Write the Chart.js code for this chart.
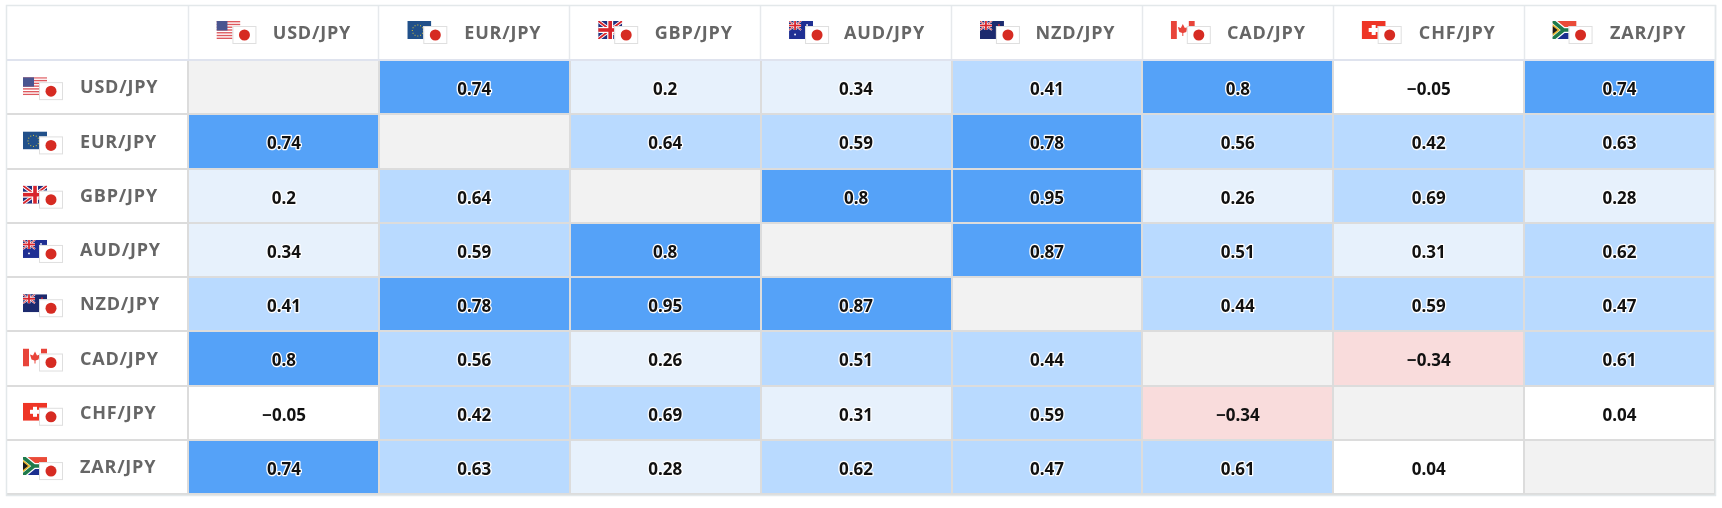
<!DOCTYPE html>
<html>
<head>
<meta charset="utf-8">
<title>JPY correlation</title>
<script src="https://cdn.jsdelivr.net/npm/chart.js@4"></script>
<style>
  html, body { margin: 0; padding: 0; background: #fff; }
  canvas { display: block; }
</style>
</head>
<body>
<canvas id="corrChart" width="1722" height="508"></canvas>
<script>
const pairs = ['USD/JPY', 'EUR/JPY', 'GBP/JPY', 'AUD/JPY', 'NZD/JPY', 'CAD/JPY', 'CHF/JPY', 'ZAR/JPY'];

const usdRow = [null, 0.74, 0.2, 0.34, 0.41, 0.8, -0.05, 0.74];
const eurRow = [0.74, null, 0.64, 0.59, 0.78, 0.56, 0.42, 0.63];
const gbpRow = [0.2, 0.64, null, 0.8, 0.95, 0.26, 0.69, 0.28];
const audRow = [0.34, 0.59, 0.8, null, 0.87, 0.51, 0.31, 0.62];
const nzdRow = [0.41, 0.78, 0.95, 0.87, null, 0.44, 0.59, 0.47];
const cadRow = [0.8, 0.56, 0.26, 0.51, 0.44, null, -0.34, 0.61];
const chfRow = [-0.05, 0.42, 0.69, 0.31, 0.59, -0.34, null, 0.04];
const zarRow = [0.74, 0.63, 0.28, 0.62, 0.47, 0.61, 0.04, null];

const rows = [usdRow, eurRow, gbpRow, audRow, nzdRow, cadRow, chfRow, zarRow];

function cellColor(v) {
  if (v === null) return '#f2f2f2';
  if (v <= -0.2) return '#f9dcdc';
  if (v < 0.2) return '#ffffff';
  if (v < 0.4) return '#e7f1fc';
  if (v < 0.7) return '#b9daff';
  return '#55a2f8';
}

// small flags, 24x18 at x,y
function unionJack(c, x, y, w, h) {
  c.fillStyle = '#22307e';
  c.fillRect(x, y, w, h);
  c.lineWidth = h / 5;
  c.strokeStyle = '#fff';
  c.beginPath();
  c.moveTo(x, y); c.lineTo(x + w, y + h);
  c.moveTo(x + w, y); c.lineTo(x, y + h);
  c.stroke();
  c.lineWidth = h / 10;
  c.strokeStyle = '#d8252c';
  c.stroke();
  c.fillStyle = '#fff';
  c.fillRect(x + w / 2 - h / 6, y, h / 3, h);
  c.fillRect(x, y + h / 3, w, h / 3);
  c.fillStyle = '#d8252c';
  c.fillRect(x + w / 2 - h / 10, y, h / 5, h);
  c.fillRect(x, y + h * 0.4, w, h / 5);
}

function dots(c, color, list) {
  c.fillStyle = color;
  list.forEach(p => {
    c.beginPath();
    c.arc(p[0], p[1], 0.9, 0, Math.PI * 2);
    c.fill();
  });
}

const flags = {
  USD(c, x, y) {
    c.fillStyle = '#fff';
    c.fillRect(x, y, 24, 18);
    c.fillStyle = '#de5a5f';
    for (let i = 0; i < 7; i++) c.fillRect(x, y + i * 2.77, 24, 1.38);
    c.fillStyle = '#4a5590';
    c.fillRect(x, y, 11, 9.5);
  },
  EUR(c, x, y) {
    c.fillStyle = '#21508a';
    c.fillRect(x, y, 24, 18);
    c.fillStyle = '#d9c53c';
    for (let i = 0; i < 12; i++) {
      const a = i * Math.PI / 6;
      c.fillRect(x + 10 + Math.cos(a) * 5.5, y + 9 + Math.sin(a) * 5.5, 1, 1);
    }
  },
  GBP(c, x, y) {
    unionJack(c, x, y, 24, 18);
  },
  AUD(c, x, y) {
    c.fillStyle = '#1f2f93';
    c.fillRect(x, y, 24, 18);
    unionJack(c, x, y, 12, 9);
    dots(c, '#fff', [[x + 6, y + 13.5], [x + 18, y + 4], [x + 21, y + 8]]);
  },
  NZD(c, x, y) {
    c.fillStyle = '#1c2a6e';
    c.fillRect(x, y, 24, 18);
    unionJack(c, x, y, 12, 9);
    dots(c, '#d8252c', [[x + 19, y + 4], [x + 21, y + 8]]);
  },
  CAD(c, x, y) {
    c.fillStyle = '#fff';
    c.fillRect(x, y, 24, 18);
    c.fillStyle = '#e8443a';
    c.fillRect(x, y, 6, 18);
    c.fillRect(x + 18, y, 6, 18);
    c.beginPath();
    c.moveTo(x + 12, y + 3);
    c.lineTo(x + 14, y + 7);
    c.lineTo(x + 17, y + 6);
    c.lineTo(x + 15.5, y + 11);
    c.lineTo(x + 12.5, y + 12);
    c.lineTo(x + 12.5, y + 15);
    c.lineTo(x + 11.5, y + 15);
    c.lineTo(x + 11.5, y + 12);
    c.lineTo(x + 8.5, y + 11);
    c.lineTo(x + 7, y + 6);
    c.lineTo(x + 10, y + 7);
    c.closePath();
    c.fill();
  },
  CHF(c, x, y) {
    c.fillStyle = '#ee3526';
    c.fillRect(x, y, 24, 18);
    c.fillStyle = '#fff';
    c.fillRect(x + 7, y + 7, 10, 4);
    c.fillRect(x + 10, y + 4, 4, 10);
  },
  ZAR(c, x, y) {
    c.fillStyle = '#ea4b38';
    c.fillRect(x, y, 24, 9);
    c.fillStyle = '#1b2f8f';
    c.fillRect(x, y + 9, 24, 9);
    c.strokeStyle = '#fff';
    c.lineWidth = 6;
    c.beginPath();
    c.moveTo(x, y); c.lineTo(x + 11, y + 9); c.lineTo(x, y + 18);
    c.moveTo(x + 11, y + 9); c.lineTo(x + 24, y + 9);
    c.stroke();
    c.strokeStyle = '#1f7a4c';
    c.lineWidth = 3.6;
    c.stroke();
    c.fillStyle = '#e9b62c';
    c.beginPath();
    c.moveTo(x, y + 3); c.lineTo(x + 7.5, y + 9); c.lineTo(x, y + 15);
    c.fill();
    c.fillStyle = '#1a1a1a';
    c.beginPath();
    c.moveTo(x, y + 5); c.lineTo(x + 5, y + 9); c.lineTo(x, y + 13);
    c.fill();
  }
};

function drawPairFlag(c, pair, x, y) {
  c.save();
  c.beginPath();
  c.rect(x, y, 24, 18);
  c.clip();
  flags[pair.slice(0, 3)](c, x, y);
  c.restore();
  // JPY flag sits on top, lower right
  const jx = x + 16, jy = y + 5;
  c.fillStyle = '#fff';
  c.fillRect(jx, jy, 24, 18);
  c.strokeStyle = '#dfdfdf';
  c.lineWidth = 1;
  c.strokeRect(jx + 0.5, jy + 0.5, 23, 17);
  c.fillStyle = '#d62b22';
  c.beginPath();
  c.arc(jx + 12, jy + 9, 5.5, 0, Math.PI * 2);
  c.fill();
}

const tablePlugin = {
  id: 'tablePlugin',
  beforeDraw(chart) {
    chart.ctx.letterSpacing = '0.8px';
  },
  afterDatasetsDraw(chart) {
    const c = chart.ctx;
    c.save();
    c.letterSpacing = '0px';
    c.font = 'bold 17px "Noto Sans"';
    c.textAlign = 'center';
    c.textBaseline = 'middle';
    c.lineJoin = 'round';
    chart.data.datasets.forEach((ds, col) => {
      chart.getDatasetMeta(col).data.forEach((bar, row) => {
        const v = rows[row][col];
        if (v === null) return;
        const p = bar.getCenterPoint();
        const label = String(v).replace('-', '\u2212');
        if (v >= 0.2) {
          c.strokeStyle = '#ffffff';
          c.lineWidth = 2.5;
          c.strokeText(label, p.x, p.y + 3);
        }
        c.fillStyle = '#111';
        c.fillText(label, p.x, p.y + 3);
      });
    });
    c.restore();
  },
  afterDraw(chart) {
    const c = chart.ctx;
    const top = chart.scales.xTop, left = chart.scales.y;
    c.save();
    pairs.forEach((pair, i) => {
      drawPairFlag(c, pair, top.getPixelForTick(i) - 67, 21);
      drawPairFlag(c, pair, 23, left.getPixelForTick(i) - 10);
    });
    c.strokeStyle = '#e3e8ea';
    c.lineWidth = 1.5;
    c.strokeRect(6.5, 5.5, 1709, 490);
    c.restore();
  }
};

new Chart(document.getElementById('corrChart'), {
  type: 'bar',
  data: {
    labels: pairs,
    datasets: pairs.map((pair, col) => ({
      label: pair,
      data: pairs.map(() => 1),
      backgroundColor: ctx => cellColor(rows[ctx.dataIndex][col]),
      categoryPercentage: 1,
      barPercentage: 1,
      borderWidth: 0
    }))
  },
  options: {
    indexAxis: 'y',
    responsive: false,
    animation: false,
    events: [],
    layout: { padding: { left: 80, right: 7, top: 5, bottom: 13 } },
    plugins: { legend: { display: false }, tooltip: { enabled: false } },
    scales: {
      x: {
        type: 'linear',
        stacked: true,
        min: 0,
        max: 8,
        position: 'bottom',
        afterFit(s) { s.height = 0; },
        border: { display: false },
        ticks: { display: false, stepSize: 1 },
        grid: { color: '#dcdcdc', lineWidth: 2, drawTicks: false, z: 1 }
      },
      xTop: {
        type: 'category',
        axis: 'x',
        labels: pairs,
        position: 'top',
        offset: true,
        afterFit(s) { s.height = 55; },
        border: { display: false },
        ticks: {
          color: '#666',
          font: { family: '"Open Sans"', size: 18, weight: 'bold' },
          maxRotation: 0,
          autoSkip: false,
          labelOffset: 28.5,
          padding: -40
        },
        grid: { offset: true, drawOnChartArea: false, tickLength: 55, tickColor: '#e6e9ec', tickWidth: 1.5 }
      },
      y: {
        type: 'category',
        stacked: true,
        offset: true,
        afterFit(s) { s.width = 108; },
        border: { display: false },
        ticks: {
          color: '#666',
          font: { family: '"Open Sans"', size: 18, weight: 'bold' },
          crossAlign: 'far',
          labelOffset: 1,
          autoSkip: false
        },
        grid: {
          offset: true,
          z: 1,
          tickLength: 181,
          lineWidth: 2,
          color: ctx => ctx.index === 0 ? '#dfe3ee' : '#dcdcdc',
          tickColor: ctx => ctx.index === 0 ? '#dfe3ee' : '#dcdcdc'
        }
      }
    }
  },
  plugins: [tablePlugin]
});
</script>
</body>
</html>
